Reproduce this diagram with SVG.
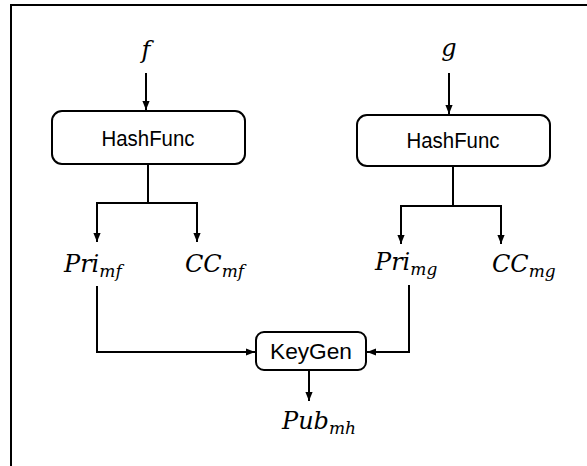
<svg xmlns="http://www.w3.org/2000/svg" width="587" height="466" viewBox="0 0 587 466">
<defs>
<marker id="ah" viewBox="0 0 10 10" refX="10" refY="5" markerWidth="9" markerHeight="9" orient="auto" markerUnits="userSpaceOnUse">
<path d="M0,1 L10,5 L0,9 z" fill="#000"/>
</marker>
<style>
.box{fill:#fff;stroke:#000;stroke-width:2}
.lbl{font-family:"Liberation Sans","Open Sans",sans-serif;font-size:22px;fill:#000;text-anchor:middle}
.m{font-family:"DejaVu Serif","Liberation Serif",serif;font-style:italic;font-size:24px;fill:#000}
.sub{font-size:17px}
.c{fill:none;stroke:#000;stroke-width:2}
</style>
</defs>
<rect width="587" height="466" fill="#fff"/>
<path d="M11,466 V5 H587" fill="none" stroke="#000" stroke-width="2"/>
<g id="connectors">
<path class="c" d="M146,73 V110" marker-end="url(#ah)"/>
<path class="c" d="M449,73 V114" marker-end="url(#ah)"/>
<path class="c" d="M148,164 V203 H97 V242" marker-end="url(#ah)"/>
<path class="c" d="M148,203 H197 V242" marker-end="url(#ah)"/>
<path class="c" d="M453,166 V206 H401 V244" marker-end="url(#ah)"/>
<path class="c" d="M453,206 H501 V244" marker-end="url(#ah)"/>
<path class="c" d="M97,286 V352 H255" marker-end="url(#ah)"/>
<path class="c" d="M409,285 V352 H367" marker-end="url(#ah)"/>
<path class="c" d="M309,370 V401" marker-end="url(#ah)"/>
</g>
<g id="f"><text class="m" x="146" y="58" text-anchor="middle">f</text></g>
<g id="g"><text class="m" x="449" y="56" text-anchor="middle">g</text></g>
<g id="hash1">
<rect class="box" x="52" y="111" width="193" height="53" rx="10"/>
<text class="lbl" x="148" y="146" textLength="93" lengthAdjust="spacingAndGlyphs">HashFunc</text>
</g>
<g id="hash2">
<rect class="box" x="357" y="115" width="193" height="51" rx="10"/>
<text class="lbl" x="453" y="148" textLength="93" lengthAdjust="spacingAndGlyphs">HashFunc</text>
</g>
<g id="primf"><text class="m" x="64" y="272">Pri<tspan class="sub" dy="5">mf</tspan></text></g>
<g id="ccmf"><text class="m" x="185" y="272">CC<tspan class="sub" dy="5">mf</tspan></text></g>
<g id="primg"><text class="m" x="375" y="270">Pri<tspan class="sub" dy="5">mg</tspan></text></g>
<g id="ccmg"><text class="m" x="492" y="272">CC<tspan class="sub" dy="5">mg</tspan></text></g>
<g id="keygen">
<rect class="box" x="256" y="332" width="110" height="38" rx="8"/>
<text class="lbl" x="311" y="359" textLength="82" lengthAdjust="spacingAndGlyphs">KeyGen</text>
</g>
<g id="pubmh"><text class="m" x="282" y="429">Pub<tspan class="sub" dy="5">mh</tspan></text></g>
</svg>
